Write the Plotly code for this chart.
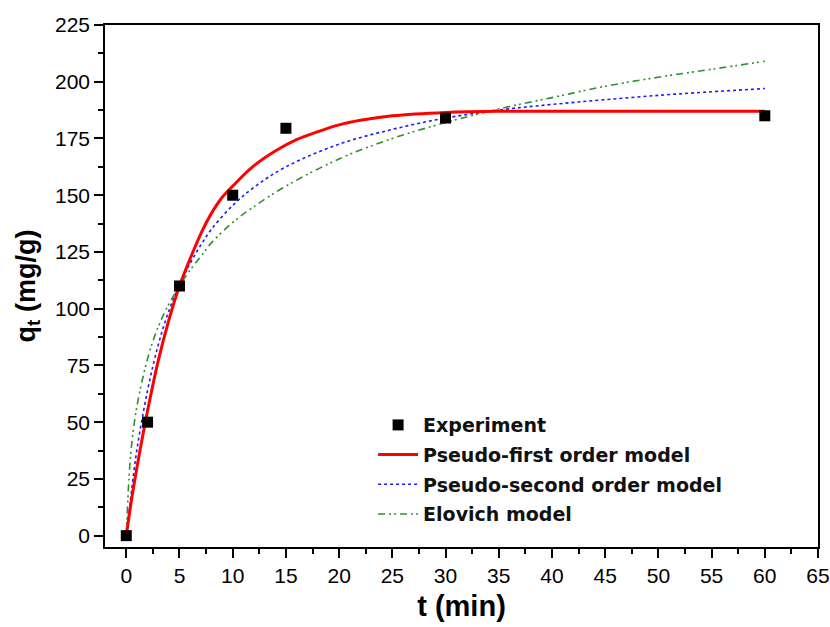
import plotly.graph_objects as go

# Experimental data
t_exp = [0, 2, 5, 10, 15, 30, 60]
q_exp = [0, 50, 110, 150, 179.5, 184, 185]

# Pseudo-first order model curve
t_pfo = [0, 0.5, 1, 2, 3, 4, 5, 6, 7, 8, 9, 10, 12, 14, 16, 18, 20, 22, 25, 30, 35, 40, 50, 60]
q_pfo = [0, 16, 30, 55, 77, 95, 110, 122, 133, 142, 149, 154, 163, 169.5, 174.5, 178, 181, 183, 185, 186.5, 187, 187, 187, 187]

# Pseudo-second order model curve
t_pso = [0, 0.5, 1, 2, 3, 4, 5, 6, 7, 8, 10, 12, 15, 20, 25, 30, 35, 40, 50, 60]
q_pso = [0, 20, 38, 64, 84, 99, 110.5, 120, 128, 135, 145.5, 153.5, 162.5, 172.5, 179, 184, 187.5, 190, 194, 197]

# Elovich model curve
t_elo = [0, 0.25, 0.5, 1, 2, 3, 4, 5, 6, 7, 8, 10, 12, 15, 20, 25, 30, 35, 40, 45, 50, 55, 60]
q_elo = [0, 25, 40, 57, 78, 92, 102, 110, 117, 123, 129, 138, 145, 154, 166, 175, 182, 188, 193, 198, 202, 205.5, 209]

names = ["Experiment", "Pseudo-first order model", "Pseudo-second order model", "Elovich model"]

FONT = "Liberation Sans, Arial"

fig = go.Figure()
fig.add_trace(go.Scatter(x=t_elo, y=q_elo, mode="lines", name=names[3], legendgroup="d", legendrank=4,
                         line=dict(color="#2a922a", width=1.6, dash="7px,4px,2px,3px,2px,4px"), line_shape="spline"))
fig.add_trace(go.Scatter(x=t_pso, y=q_pso, mode="lines", name=names[2], legendgroup="c", legendrank=3,
                         line=dict(color="#1a1aff", width=1.6, dash="dot"), line_shape="spline"))
fig.add_trace(go.Scatter(x=t_pfo, y=q_pfo, mode="lines", name=names[1], legendgroup="b", legendrank=2,
                         line=dict(color="#ff0000", width=3), line_shape="spline"))
fig.add_trace(go.Scatter(x=t_exp, y=q_exp, mode="markers", name=names[0], legendgroup="a", legendrank=1,
                         marker=dict(symbol="square", size=11, color="black")))

axis_common = dict(
    showline=True, linecolor="black", linewidth=1.5, mirror=True,
    ticks="outside", ticklen=9, tickwidth=1.5, tickcolor="black",
    showgrid=False, zeroline=False, automargin=False,
    tickfont=dict(family=FONT, size=21, color="black"),
)

fig.update_layout(
    width=830, height=627,
    margin=dict(l=105, r=12, t=25, b=80),
    plot_bgcolor="white", paper_bgcolor="white",
    xaxis=dict(range=[-2, 65], dtick=5, tick0=0,
               minor=dict(dtick=2.5, ticks="outside", ticklen=5, tickwidth=1.5, tickcolor="black"),
               title=dict(text="t (min)", font=dict(family=FONT, size=29, color="black", weight="bold"), standoff=10),
               **axis_common),
    yaxis=dict(range=[-5, 225], dtick=25, tick0=0,
               minor=dict(dtick=12.5, ticks="outside", ticklen=5, tickwidth=1.5, tickcolor="black"),
               title=dict(text="q<sub>t</sub> (mg/g)", font=dict(family=FONT, size=27, color="black", weight="bold"), standoff=12),
               **axis_common),
    legend=dict(x=0.376, y=0.27, xanchor="left", yanchor="top", bgcolor="rgba(0,0,0,0)",
                font=dict(family="DejaVu Sans", size=19, color="#111", weight="bold"),
                tracegroupgap=2, itemwidth=40),
    showlegend=True,
)

fig.write_html("out.html")
